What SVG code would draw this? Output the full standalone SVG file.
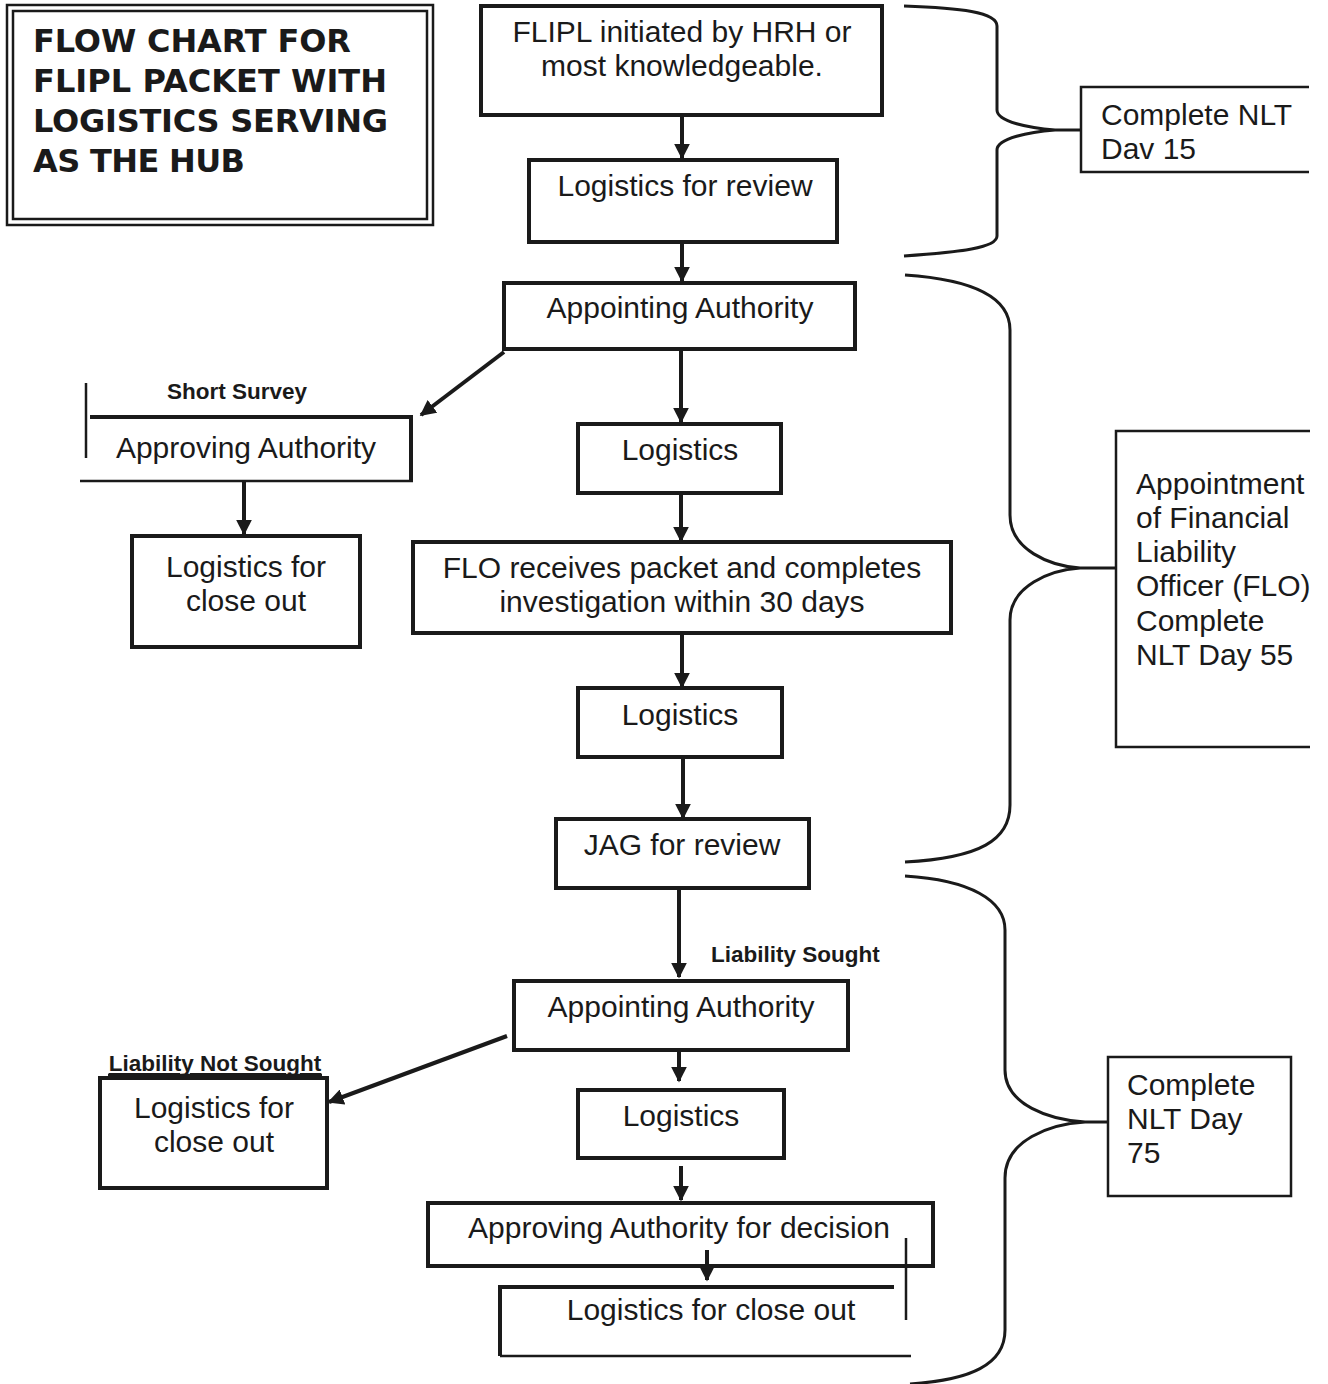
<svg xmlns="http://www.w3.org/2000/svg" width="1328" height="1384" viewBox="0 0 1328 1384">
<style>
.bx{fill:none;stroke:#1a1a1a;stroke-width:4}
.ln{fill:none;stroke:#1a1a1a;stroke-width:4}
.thin{fill:none;stroke:#1a1a1a;stroke-width:2.5}
.br{fill:none;stroke:#1a1a1a;stroke-width:3}
.t{font-family:"Liberation Sans",Arial,sans-serif;font-size:30px;fill:#1a1a1a}
.s{font-size:30px}
.tc{text-anchor:middle}
.lb{font-family:"Liberation Sans",Arial,sans-serif;font-size:22.5px;font-weight:bold;fill:#1a1a1a}
.ti{font-family:"DejaVu Sans",Verdana,sans-serif;font-size:32px;font-weight:bold;fill:#1a1a1a}
.ar{fill:none;stroke:#1a1a1a;stroke-width:4;marker-end:url(#ah)}
</style>
<defs>
<marker id="ah" viewBox="0 0 10 10" refX="9" refY="5" markerWidth="4" markerHeight="4" orient="auto" markerUnits="strokeWidth">
<path d="M0,0 L10,5 L0,10 z" fill="#1a1a1a"/>
</marker>
</defs>
<rect width="1328" height="1384" fill="#ffffff"/>

<g id="title">
<rect x="7" y="5" width="426" height="220" class="thin"/>
<rect x="13" y="11" width="414" height="208" class="thin"/>
<text class="ti" x="33" y="52" textLength="318">FLOW CHART FOR</text>
<text class="ti" x="33" y="92" textLength="354">FLIPL PACKET WITH</text>
<text class="ti" x="33" y="132" textLength="355">LOGISTICS SERVING</text>
<text class="ti" x="33" y="172" textLength="212">AS THE HUB</text>
</g>

<g id="connectors">
<line class="ar" x1="682" y1="115" x2="682" y2="158"/>
<line class="ar" x1="682" y1="242" x2="682" y2="281"/>
<line class="ar" x1="504" y1="352" x2="421" y2="415"/>
<line class="ar" x1="681" y1="349" x2="681" y2="422"/>
<line class="ar" x1="244" y1="481" x2="244" y2="534"/>
<line class="ar" x1="681" y1="493" x2="681" y2="541"/>
<line class="ar" x1="682" y1="633" x2="682" y2="687"/>
<line class="ar" x1="683" y1="757" x2="683" y2="818"/>
<line class="ar" x1="679" y1="888" x2="679" y2="977"/>
<line class="ar" x1="679" y1="1050" x2="679" y2="1081"/>
<line class="ar" x1="507" y1="1036" x2="329" y2="1102"/>
<line class="ar" x1="681" y1="1166" x2="681" y2="1200"/>
<line class="ar" x1="707" y1="1250" x2="707" y2="1280"/>
</g>

<g id="n-flipl">
<rect x="481" y="6" width="401" height="109" class="bx"/>
<text class="t tc" x="682" y="42">FLIPL initiated by HRH or</text>
<text class="t tc" x="682" y="76">most knowledgeable.</text>
</g>

<g id="n-log-review">
<rect x="529" y="160" width="308" height="82" class="bx"/>
<text class="t tc" x="685" y="196">Logistics for review</text>
</g>

<g id="n-appointing1">
<rect x="504" y="283" width="351" height="66" class="bx"/>
<text class="t tc" x="680" y="318">Appointing Authority</text>
</g>

<g id="n-approving-short">
<text class="lb tc" x="237" y="399">Short Survey</text>
<line class="thin" x1="86" y1="383" x2="86" y2="458"/>
<polyline class="ln" points="90,417 411,417 411,481"/>
<line class="thin" x1="80" y1="481" x2="413" y2="481"/>
<text class="t tc" x="246" y="458">Approving Authority</text>
</g>

<g id="n-closeout1">
<rect x="132" y="536" width="228" height="111" class="bx"/>
<text class="t tc" x="246" y="577">Logistics for</text>
<text class="t tc" x="246" y="611">close out</text>
</g>

<g id="n-logistics1">
<rect x="578" y="424" width="203" height="69" class="bx"/>
<text class="t tc" x="680" y="460">Logistics</text>
</g>

<g id="n-flo">
<rect x="413" y="542" width="538" height="91" class="bx"/>
<text class="t tc" x="682" y="578">FLO receives packet and completes</text>
<text class="t tc" x="682" y="612">investigation within 30 days</text>
</g>

<g id="n-logistics2">
<rect x="578" y="688" width="204" height="69" class="bx"/>
<text class="t tc" x="680" y="725">Logistics</text>
</g>

<g id="n-jag">
<rect x="556" y="819" width="253" height="69" class="bx"/>
<text class="t tc" x="682" y="855">JAG for review</text>
</g>

<g id="n-appointing2">
<text class="lb" x="711" y="962">Liability Sought</text>
<rect x="514" y="981" width="334" height="69" class="bx"/>
<text class="t tc" x="681" y="1017">Appointing Authority</text>
</g>

<g id="n-closeout2">
<text class="lb tc" x="215" y="1071" text-decoration="underline">Liability Not Sought</text>
<line class="thin" x1="108" y1="1075" x2="322" y2="1075"/>
<rect x="100" y="1078" width="227" height="110" class="bx"/>
<text class="t tc" x="214" y="1118">Logistics for</text>
<text class="t tc" x="214" y="1152">close out</text>
</g>

<g id="n-logistics3">
<rect x="578" y="1090" width="206" height="68" class="bx"/>
<text class="t tc" x="681" y="1126">Logistics</text>
</g>

<g id="n-approving-decision">
<rect x="428" y="1203" width="505" height="63" class="bx"/>
<text class="t tc" x="679" y="1238">Approving Authority for decision</text>
</g>

<g id="n-closeout3">
<polyline class="ln" points="894,1287 500,1287 500,1356"/>
<line class="thin" x1="500" y1="1356" x2="911" y2="1356"/>
<line class="thin" x1="906" y1="1238" x2="906" y2="1320"/>
<text class="t tc" x="711" y="1320">Logistics for close out</text>
</g>

<g id="n-day15">
<path class="br" d="M904,6 C960,8 997,12 997,26 L997,110 C997,122 1030,128 1055,130 L1081,130 M1055,130 C1030,132 997,138 997,150 L997,236 C997,248 960,252 904,256"/>
<polyline class="thin" points="1309,87 1081,87 1081,172 1309,172"/>
<text class="t s" x="1101" y="125">Complete NLT</text>
<text class="t s" x="1101" y="159">Dav 15</text>
</g>

<g id="n-day55">
<path class="br" d="M905,275 C980,280 1010,300 1010,330 L1010,515 C1010,550 1050,566 1080,568 L1116,568 M1080,568 C1050,570 1010,586 1010,620 L1010,805 C1010,840 980,858 905,862"/>
<polyline class="thin" points="1310,431 1116,431 1116,747 1310,747"/>
<text class="t s" x="1136" y="494">Appointment</text>
<text class="t s" x="1136" y="528">of Financial</text>
<text class="t s" x="1136" y="562">Liability</text>
<text class="t s" x="1136" y="596">Officer (FLO)</text>
<text class="t s" x="1136" y="631">Complete</text>
<text class="t s" x="1136" y="665">NLT Day 55</text>
</g>

<g id="n-day75">
<path class="br" d="M905,876 C970,880 1005,900 1005,930 L1005,1070 C1005,1105 1050,1120 1085,1122 L1108,1122 M1085,1122 C1050,1124 1005,1140 1005,1178 L1005,1330 C1005,1365 970,1380 910,1384"/>
<rect x="1108" y="1057" width="183" height="139" class="thin"/>
<text class="t s" x="1127" y="1095">Complete</text>
<text class="t s" x="1127" y="1129">NLT Day</text>
<text class="t s" x="1127" y="1163">75</text>
</g>
</svg>
